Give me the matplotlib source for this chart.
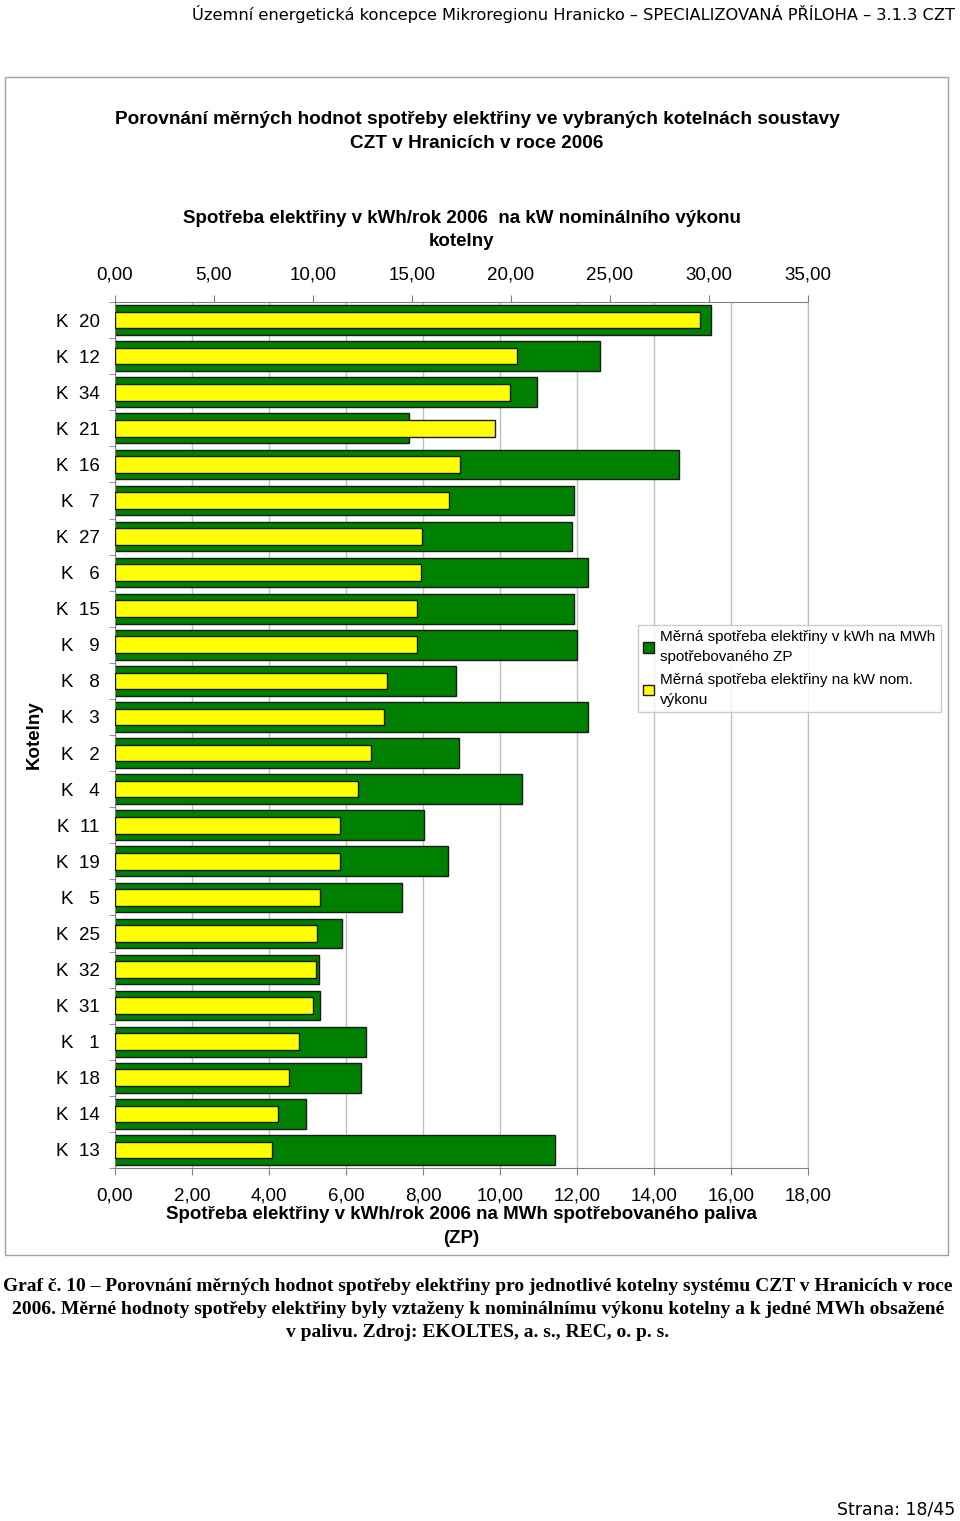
import matplotlib.pyplot as plt
import numpy as np
from matplotlib.patches import Rectangle, Patch

# boiler rooms, top to bottom
kotelny = ['K  20', 'K  12', 'K  34', 'K  21', 'K  16', 'K   7', 'K  27', 'K   6', 'K  15', 'K   9',
           'K   8', 'K   3', 'K   2', 'K   4', 'K  11', 'K  19', 'K   5', 'K  25', 'K  32', 'K  31',
           'K   1', 'K  18', 'K  14', 'K  13']
# kWh per MWh of consumed gas (bottom axis)
na_mwh = [15.47, 12.60, 10.97, 7.64, 14.64, 11.92, 11.86, 12.29, 11.92, 12.01,
          8.87, 12.29, 8.93, 10.56, 8.03, 8.65, 7.45, 5.90, 5.29, 5.33,
          6.52, 6.40, 4.96, 11.43]
# kWh per kW of nominal output (top axis)
na_kw = [29.53, 20.28, 19.94, 19.17, 17.43, 16.88, 15.51, 15.44, 15.25, 15.25,
         13.72, 13.58, 12.91, 12.26, 11.38, 11.38, 10.34, 10.22, 10.13, 9.99,
         9.27, 8.79, 8.25, 7.95]

bottom_ticks = [0, 2, 4, 6, 8, 10, 12, 14, 16, 18]
top_ticks = [0, 5, 10, 15, 20, 25, 30, 35]

lbl_green = 'Měrná spotřeba elektřiny v kWh na MWh\nspotřebovaného ZP'
lbl_yellow = 'Měrná spotřeba elektřiny na kW nom.\nvýkonu'

plt.rcParams['font.family'] = ['Liberation Sans', 'DejaVu Sans']

W, H = 960, 1521
fig = plt.figure(figsize=(W / 100, H / 100), dpi=100)

def fx(px):
    return px / W

def fy(py):
    return 1 - py / H

# outer chart frame
fig.patches.append(Rectangle((fx(5), fy(1255)), fx(943), (1178) / H, transform=fig.transFigure,
                             fill=False, edgecolor='#a0a0a0', linewidth=1))

ax = fig.add_axes([fx(115), fy(1168), fx(808 - 115), (1168 - 302) / H])
pos = np.arange(len(kotelny))

green = ax.barh(pos, na_mwh, height=0.82, color='#008000', edgecolor='#1a1a1a', linewidth=1.0, zorder=2)
ax.set_xlim(0, 18)
ax.set_ylim(len(kotelny) - 0.5, -0.5)
ax.set_xticks(bottom_ticks)
ax.set_xticklabels([f'{v:.2f}'.replace('.', ',') for v in bottom_ticks], fontsize=13.5)
ax.set_yticks(pos)
ax.set_yticklabels(kotelny, fontsize=13.5)
ax.set_yticks(np.arange(len(kotelny) + 1) - 0.5, minor=True)
ax.tick_params(axis='y', which='major', length=0, pad=11)
ax.tick_params(axis='y', which='minor', length=4, color='#808080')
ax.tick_params(axis='x', length=5, color='#808080', pad=9)
ax.grid(axis='x', color='#c0c0c0', linewidth=1, zorder=0)
ax.set_axisbelow(True)
for s in ['left', 'bottom']:
    ax.spines[s].set_color('#808080')
ax.spines['right'].set_color('#c0c0c0')
ax.spines['top'].set_color('#808080')
ax.set_xlabel('Spotřeba elektřiny v kWh/rok 2006 na MWh spotřebovaného paliva\n(ZP)',
              fontsize=13.5, fontweight='bold', labelpad=1, linespacing=1.55)
ax.set_ylabel('Kotelny', fontsize=13.5, fontweight='bold', labelpad=9)

ax2 = ax.twiny()
yellow = ax2.barh(pos, na_kw, height=0.46, color='#ffff00', edgecolor='#1a1a1a', linewidth=1.0, zorder=3)
ax2.set_xlim(0, 35)
ax2.set_xticks(top_ticks)
ax2.set_xticklabels([f'{v:.2f}'.replace('.', ',') for v in top_ticks], fontsize=13.5)
ax2.tick_params(axis='x', length=5, color='#808080', pad=8)
for s in ax2.spines.values():
    s.set_visible(False)
ax2.set_xlabel('Spotřeba elektřiny v kWh/rok 2006  na kW nominálního výkonu\nkotelny',
               fontsize=13.5, fontweight='bold', labelpad=15, linespacing=1.5)

handles = [Patch(facecolor='#008000', edgecolor='#1a1a1a'), Patch(facecolor='#ffff00', edgecolor='#1a1a1a')]
leg = fig.legend(handles, [lbl_green, lbl_yellow], loc='upper left',
                 bbox_to_anchor=(fx(638), fy(625)), fontsize=11, frameon=True, fancybox=False,
                 edgecolor='#c0c0c0', handlelength=0.7, handleheight=0.7, handletextpad=0.4,
                 borderpad=0.35, labelspacing=0.6, borderaxespad=0)
for t in leg.get_texts():
    t.set_linespacing(1.5)

fig.text(fx(477), fy(119), 'Porovnání měrných hodnot spotřeby elektřiny ve vybraných kotelnách soustavy',
         ha='center', va='center', fontsize=13.7, fontweight='bold')
fig.text(fx(477), fy(144), 'CZT v Hranicích v roce 2006',
         ha='center', va='center', fontsize=13.7, fontweight='bold')

fig.text(fx(955), fy(14), 'Územní energetická koncepce Mikroregionu Hranicko – SPECIALIZOVANÁ PŘÍLOHA – 3.1.3 CZT',
         ha='right', va='center', fontsize=11.7, family=['DejaVu Sans'])
fig.text(fx(955), fy(1510), 'Strana: 18/45', ha='right', va='center', fontsize=12.5,
         family=['DejaVu Sans'])

caption = ('Graf č. 10 – Porovnání měrných hodnot spotřeby elektřiny pro jednotlivé kotelny systému CZT v Hranicích v roce\n'
           '2006. Měrné hodnoty spotřeby elektřiny byly vztaženy k nominálnímu výkonu kotelny a k jedné MWh obsažené\n'
           'v palivu. Zdroj: EKOLTES, a. s., REC, o. p. s.')
fig.text(fx(478), fy(1278), caption, ha='center', va='top', fontsize=14, fontweight='bold',
         family=['Liberation Serif'], linespacing=1.45)

fig.savefig('out.png', dpi=100)
